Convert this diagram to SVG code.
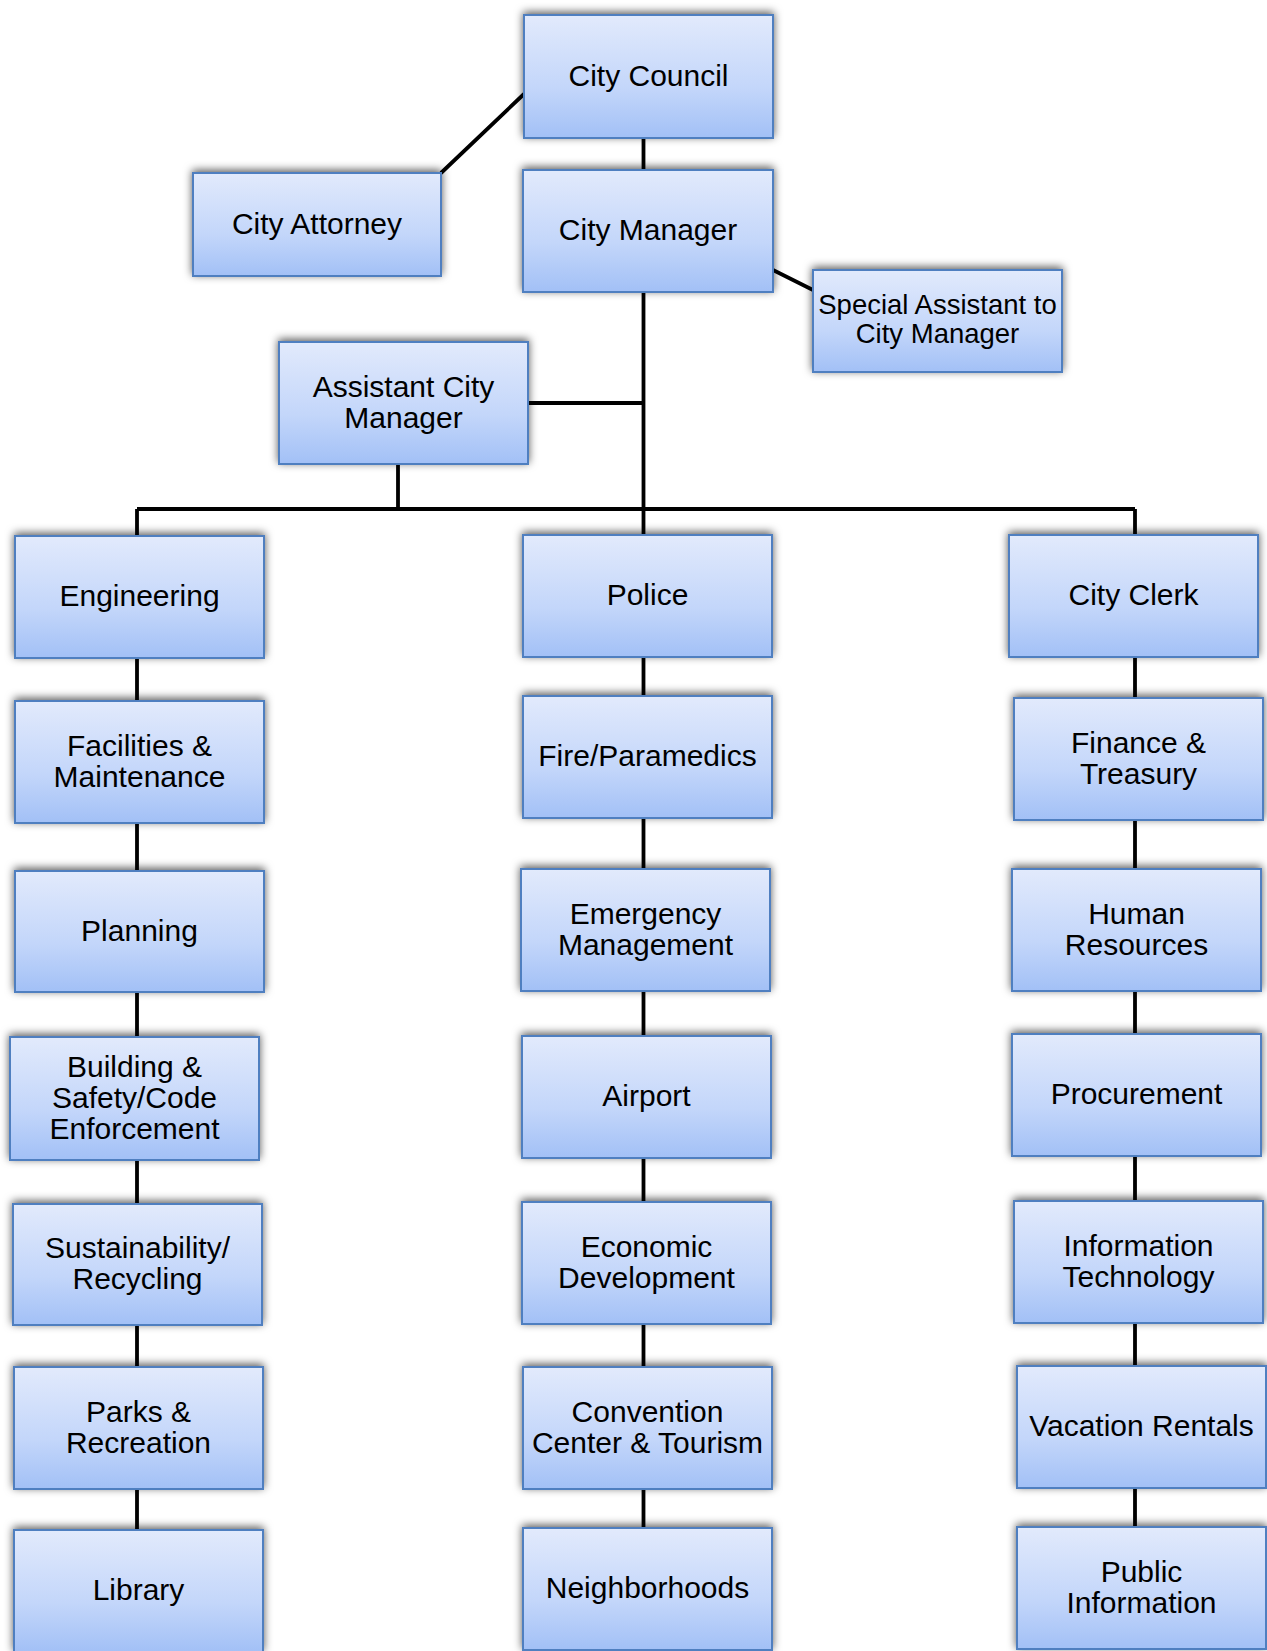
<svg xmlns="http://www.w3.org/2000/svg" width="1267" height="1651" viewBox="0 0 1267 1651">
<defs>
<linearGradient id="g" x1="0" y1="0" x2="0" y2="1">
<stop offset="0" stop-color="#e2eafc"/>
<stop offset="0.6" stop-color="#c3d6fa"/>
<stop offset="1" stop-color="#a2c0f6"/>
</linearGradient>
<filter id="sh" x="-10%" y="-25%" width="120%" height="150%">
<feDropShadow dx="0" dy="-2" stdDeviation="4.5" flood-color="#000" flood-opacity="0.65"/>
</filter>
</defs>
<style>
.b{fill:url(#g);stroke:#4f7fc0;stroke-width:2;filter:url(#sh)}
.t{font-family:"Liberation Sans",Arial,sans-serif;font-size:30px;fill:#000;text-anchor:middle}
.s{font-size:27.5px}
.c{stroke:#000;stroke-width:3.8;fill:none}
</style>
<rect width="1267" height="1651" fill="#fff"/>
<g id="connectors">
<path class="c" d="M643.5 138V170M441 173L524 94M773 270L813 290M643.5 292V535M528 403H643.5M398 464V509M137 509H1135M137 509V536M1135 509V535"/>
<path class="c" d="M137 658V701M137 823V871M137 992V1037M137 1160V1204M137 1325V1367M137 1489V1530"/>
<path class="c" d="M643.5 657V696M643.5 818V869M643.5 991V1036M643.5 1158V1202M643.5 1324V1367M643.5 1489V1528"/>
<path class="c" d="M1135 657V698M1135 820V869M1135 991V1034M1135 1156V1201M1135 1323V1366M1135 1488V1527"/>
</g>
<g font-family="Liberation Sans, Arial, sans-serif">
<g id="council"><rect class="b" x="524" y="15" width="249" height="123"/><text class="t" x="648.5" y="86">City Council</text></g>
<g id="attorney"><rect class="b" x="193" y="173" width="248" height="103"/><text class="t" x="317" y="233.5">City Attorney</text></g>
<g id="manager"><rect class="b" x="523" y="170" width="250" height="122"/><text class="t" x="648" y="240">City Manager</text></g>
<g id="special"><rect class="b" x="813" y="270" width="249" height="102"/><text class="t s" x="937.5" y="314">Special Assistant to</text><text class="t s" x="937.5" y="343">City Manager</text></g>
<g id="asst"><rect class="b" x="279" y="342" width="249" height="122"/><text class="t" x="403.5" y="397">Assistant City</text><text class="t" x="403.5" y="428">Manager</text></g>

<g id="engineering"><rect class="b" x="15" y="536" width="249" height="122"/><text class="t" x="139.5" y="606">Engineering</text></g>
<g id="facilities"><rect class="b" x="15" y="701" width="249" height="122"/><text class="t" x="139.5" y="755.5">Facilities &amp;</text><text class="t" x="139.5" y="786.5">Maintenance</text></g>
<g id="planning"><rect class="b" x="15" y="871" width="249" height="121"/><text class="t" x="139.5" y="940.5">Planning</text></g>
<g id="building"><rect class="b" x="10" y="1037" width="249" height="123"/><text class="t" x="134.5" y="1076.5">Building &amp;</text><text class="t" x="134.5" y="1107.5">Safety/Code</text><text class="t" x="134.5" y="1138.5">Enforcement</text></g>
<g id="sustainability"><rect class="b" x="13" y="1204" width="249" height="121"/><text class="t" x="137.5" y="1258">Sustainability/</text><text class="t" x="137.5" y="1289">Recycling</text></g>
<g id="parks"><rect class="b" x="14" y="1367" width="249" height="122"/><text class="t" x="138.5" y="1421.5">Parks &amp;</text><text class="t" x="138.5" y="1452.5">Recreation</text></g>
<g id="library"><rect class="b" x="14" y="1530" width="249" height="122"/><text class="t" x="138.5" y="1600">Library</text></g>

<g id="police"><rect class="b" x="523" y="535" width="249" height="122"/><text class="t" x="647.5" y="605">Police</text></g>
<g id="fire"><rect class="b" x="523" y="696" width="249" height="122"/><text class="t" x="647.5" y="766">Fire/Paramedics</text></g>
<g id="emergency"><rect class="b" x="521" y="869" width="249" height="122"/><text class="t" x="645.5" y="923.5">Emergency</text><text class="t" x="645.5" y="954.5">Management</text></g>
<g id="airport"><rect class="b" x="522" y="1036" width="249" height="122"/><text class="t" x="646.5" y="1106">Airport</text></g>
<g id="economic"><rect class="b" x="522" y="1202" width="249" height="122"/><text class="t" x="646.5" y="1256.5">Economic</text><text class="t" x="646.5" y="1287.5">Development</text></g>
<g id="convention"><rect class="b" x="523" y="1367" width="249" height="122"/><text class="t" x="647.5" y="1421.5">Convention</text><text class="t" x="647.5" y="1452.5">Center &amp; Tourism</text></g>
<g id="neighborhoods"><rect class="b" x="523" y="1528" width="249" height="122"/><text class="t" x="647.5" y="1598">Neighborhoods</text></g>

<g id="clerk"><rect class="b" x="1009" y="535" width="249" height="122"/><text class="t" x="1133.5" y="605">City Clerk</text></g>
<g id="finance"><rect class="b" x="1014" y="698" width="249" height="122"/><text class="t" x="1138.5" y="752.5">Finance &amp;</text><text class="t" x="1138.5" y="783.5">Treasury</text></g>
<g id="hr"><rect class="b" x="1012" y="869" width="249" height="122"/><text class="t" x="1136.5" y="923.5">Human</text><text class="t" x="1136.5" y="954.5">Resources</text></g>
<g id="procurement"><rect class="b" x="1012" y="1034" width="249" height="122"/><text class="t" x="1136.5" y="1104">Procurement</text></g>
<g id="it"><rect class="b" x="1014" y="1201" width="249" height="122"/><text class="t" x="1138.5" y="1255.5">Information</text><text class="t" x="1138.5" y="1286.5">Technology</text></g>
<g id="vacation"><rect class="b" x="1017" y="1366" width="249" height="122"/><text class="t" x="1141.5" y="1436">Vacation Rentals</text></g>
<g id="public"><rect class="b" x="1017" y="1527" width="249" height="122"/><text class="t" x="1141.5" y="1581.5">Public</text><text class="t" x="1141.5" y="1612.5">Information</text></g>
</g>
</svg>
